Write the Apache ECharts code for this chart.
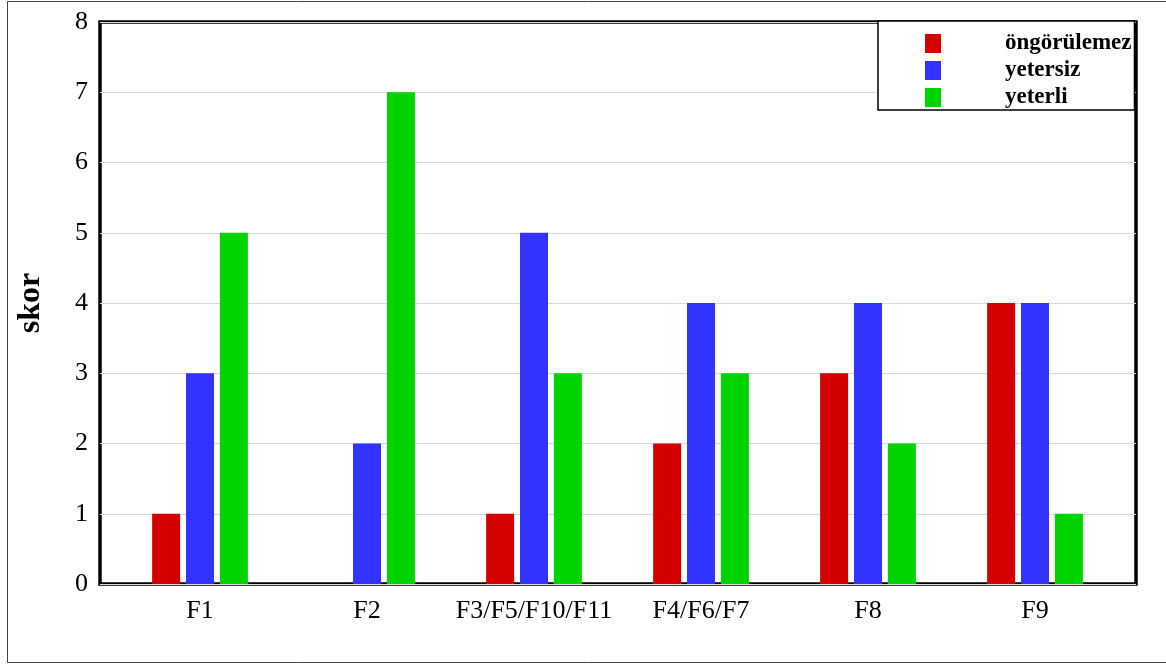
<!DOCTYPE html>
<html>
<head>
<meta charset="utf-8">
<script src="https://cdn.jsdelivr.net/npm/echarts@6/dist/echarts.min.js"></script>
<style>
  html, body { margin: 0; padding: 0; background: #fff; }
  #chart { width: 1166px; height: 665px; }
</style>
</head>
<body>
<div id="chart"></div>
<script>
// veri
var categories = ['F1', 'F2', 'F3/F5/F10/F11', 'F4/F6/F7', 'F8', 'F9'];
var ongorulemez = [1, 0, 1, 2, 3, 4];
var yetersiz = [3, 2, 5, 4, 4, 4];
var yeterli = [5, 7, 3, 3, 2, 1];
var yTicks = [0, 1, 2, 3, 4, 5, 6, 7, 8];

var serif = '"Liberation Serif", "DejaVu Serif", serif';
var myChart = echarts.init(document.getElementById('chart'));

function barSeries(name, data, color) {
    return {
        name: name,
        type: 'bar',
        xAxisIndex: 1,
        yAxisIndex: 1,
        data: data,
        barWidth: 28,
        barGap: '21%',
        itemStyle: { color: color }
    };
}

var option = {
    animation: false,
    backgroundColor: '#fff',
    graphic: [{
        type: 'rect',
        shape: { x: 7.5, y: 1.5, width: 1170, height: 661 },
        style: { fill: 'none', stroke: '#444', lineWidth: 1 },
        silent: true
    }],
    legend: {
        orient: 'vertical',
        left: 878,
        top: 21,
        data: ['öngörülemez', 'yetersiz', 'yeterli'],
        borderColor: '#000',
        borderWidth: 1.5,
        padding: [11, 3, 1, 47],
        itemWidth: 16,
        itemHeight: 19,
        itemGap: 4,
        icon: 'rect',
        backgroundColor: '#fff',
        textStyle: {
            fontFamily: serif,
            fontWeight: 'bold',
            fontSize: 23,
            color: '#000',
            lineHeight: 19,
            padding: [0, 0, 0, 59]
        }
    },
    grid: [
        { left: 100, top: 22, width: 1036, height: 562, show: true, borderColor: '#000', borderWidth: 3.5, backgroundColor: 'transparent' },
        { left: 116.5, top: 22, width: 1002, height: 562 }
    ],
    xAxis: [
        {
            type: 'category', gridIndex: 0, data: categories,
            axisLine: { show: false }, axisTick: { show: false }, axisLabel: { show: false }
        },
        {
            type: 'category', gridIndex: 1, data: categories,
            axisLine: { show: false }, axisTick: { show: false },
            axisLabel: { interval: 0, fontFamily: serif, fontSize: 26, color: '#000', margin: 14 }
        }
    ],
    yAxis: [
        {
            type: 'value', gridIndex: 0, min: yTicks[0], max: yTicks[yTicks.length - 1], interval: 1,
            name: 'skor', nameLocation: 'middle', nameGap: 53,
            nameTextStyle: { fontFamily: serif, fontWeight: 'bold', fontSize: 32, color: '#000' },
            axisLine: { show: false }, axisTick: { show: false },
            axisLabel: { fontFamily: serif, fontSize: 26, color: '#000', margin: 12 },
            splitLine: { lineStyle: { color: '#d9d9d9', width: 1 } }
        },
        {
            type: 'value', gridIndex: 1, min: 0, max: 8, interval: 1,
            show: false, splitLine: { show: false }
        }
    ],
    series: [
        barSeries('öngörülemez', ongorulemez, '#d40000'),
        barSeries('yetersiz', yetersiz, '#3333ff'),
        barSeries('yeterli', yeterli, '#00d400')
    ]
};

myChart.setOption(option);
</script>
</body>
</html>
